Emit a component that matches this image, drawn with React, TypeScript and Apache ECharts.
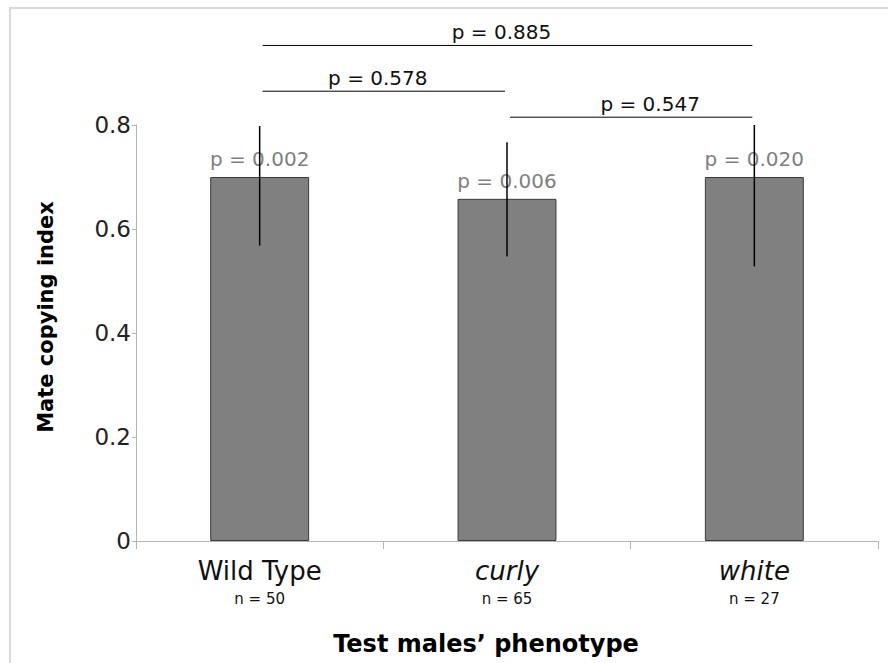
import React, { useEffect, useRef } from "react";
import * as echarts from "echarts";

const categories = ["Wild Type", "curly", "white"];
const sampleSizes = ["n = 50", "n = 65", "n = 27"];
const meanIndex = [0.7, 0.658, 0.7];
const errLow = [0.568, 0.547, 0.528];
const errHigh = [0.798, 0.767, 0.8];
const pWithin = ["p = 0.002", "p = 0.006", "p = 0.020"];

const bracketFrom = [0, 0, 1];
const bracketTo = [2, 1, 2];
const bracketLevel = [0.953, 0.865, 0.815];
const bracketP = ["p = 0.885", "p = 0.578", "p = 0.547"];

const yTicks = { min: 0, max: 0.8, interval: 0.2 };

const FONT = "DejaVu Sans";
const labelDx = [-6, -6, 19];

export default function App() {
  const ref = useRef<HTMLDivElement>(null);
  useEffect(() => {
    document.body.style.margin = "0";
    if (!ref.current) return;
    const chart = echarts.init(ref.current, null, { renderer: "svg" });
    const italicCats = new Set(["curly", "white"]);
    chart.setOption({
      animation: false,
      backgroundColor: "#ffffff",
      textStyle: { fontFamily: FONT },
      graphic: [
        {
          type: "polyline",
          shape: { points: [[10, 663], [10, 8], [888, 8]] },
          style: { stroke: "#d9d9d9", lineWidth: 2, fill: "none" },
          silent: true,
        },
      ],
      grid: { left: 136, right: 10, top: 125, bottom: 120 },
      xAxis: {
        type: "category",
        data: categories,
        name: "Test males\u2019 phenotype",
        nameLocation: "middle",
        nameGap: 89,
        nameTextStyle: {
          fontFamily: FONT,
          fontWeight: "bold",
          fontSize: 24,
          lineHeight: 28,
          color: "#000",
          padding: [0, 42, 0, 0],
        },
        axisLine: { lineStyle: { color: "#b5b5b5", width: 1 } },
        axisTick: { show: true, length: 8, lineStyle: { color: "#b5b5b5" } },
        axisLabel: {
          margin: 15,
          interval: 0,
          formatter: (v: string) => {
            const i = categories.indexOf(v);
            const style = italicCats.has(v) ? "ai" : "a";
            return `{${style}|${v}}\n{b|${sampleSizes[i]}}`;
          },
          rich: {
            a: { fontFamily: FONT, fontSize: 26, lineHeight: 30, color: "#111" },
            ai: {
              fontFamily: FONT,
              fontSize: 26,
              lineHeight: 30,
              color: "#111",
              fontStyle: "italic",
            },
            b: { fontFamily: FONT, fontSize: 15, lineHeight: 26, color: "#111" },
          },
        },
      },
      yAxis: {
        type: "value",
        min: yTicks.min,
        max: yTicks.max,
        interval: yTicks.interval,
        name: "Mate copying index",
        nameLocation: "middle",
        nameRotate: 90,
        nameGap: 77,
        nameTextStyle: {
          fontFamily: FONT,
          fontWeight: "bold",
          fontSize: 21,
          lineHeight: 26,
          color: "#000",
          padding: [0, 0, 0, 32],
        },
        splitLine: { show: false },
        axisLine: { show: true, lineStyle: { color: "#b5b5b5", width: 1 } },
        axisTick: { show: true, length: 4, lineStyle: { color: "#b5b5b5" } },
        axisLabel: {
          margin: 5,
          fontFamily: FONT,
          fontSize: 23,
          color: "#222",
          formatter: (v: number) => (v === 0 ? "0" : v.toFixed(1)),
        },
      },
      series: [
        {
          type: "bar",
          data: meanIndex,
          barWidth: "40%",
          itemStyle: { color: "#808080", borderColor: "#3a3a3a", borderWidth: 1 },
          label: {
            show: true,
            position: "top",
            distance: 8,
            formatter: (p: any) => pWithin[p.dataIndex],
            color: "#7f7f7f",
            fontFamily: FONT,
            fontSize: 20,
          },
          z: 2,
        },
        {
          type: "custom",
          z: 5,
          data: categories.map((_, i) => [i, errLow[i], errHigh[i]]),
          encode: { x: 0, y: [1, 2] },
          renderItem: (params: any, api: any) => {
            const x = api.value(0);
            const lo = api.coord([x, api.value(1)]);
            const hi = api.coord([x, api.value(2)]);
            return {
              type: "line",
              shape: { x1: lo[0], y1: lo[1], x2: hi[0], y2: hi[1] },
              style: { stroke: "#000", lineWidth: 1.5 },
            };
          },
        },
        {
          type: "custom",
          z: 5,
          clip: false,
          data: bracketP.map((_, i) => [bracketFrom[i], bracketTo[i], bracketLevel[i], i]),
          encode: { x: [0, 1], y: 2 },
          renderItem: (params: any, api: any) => {
            const idx = api.value(3);
            const a = api.coord([api.value(0), api.value(2)]);
            const b = api.coord([api.value(1), api.value(2)]);
            const x1 = a[0] + 3;
            const x2 = b[0] - 2;
            const y = a[1];
            return {
              type: "group",
              children: [
                {
                  type: "line",
                  shape: { x1, y1: y, x2, y2: y },
                  style: { stroke: "#000", lineWidth: 1 },
                },
                {
                  type: "text",
                  style: {
                    text: bracketP[idx],
                    x: (x1 + x2) / 2 + labelDx[idx],
                    y: y - 13,
                    align: "center",
                    verticalAlign: "middle",
                    fill: "#111",
                    fontFamily: FONT,
                    fontSize: 20,
                  },
                },
              ],
            };
          },
        },
      ],
    });
    return () => chart.dispose();
  }, []);
  return <div ref={ref} style={{ width: 888, height: 663 }} />;
}
